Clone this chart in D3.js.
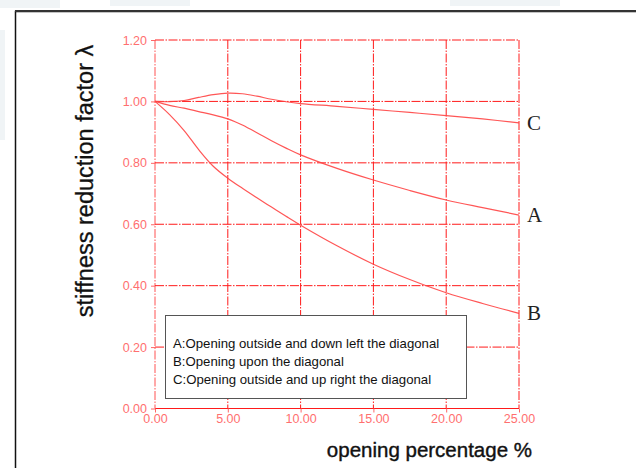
<!DOCTYPE html>
<html><head><meta charset="utf-8">
<script src="https://cdn.jsdelivr.net/npm/d3@7"></script>
<style>body{margin:0;background:#fff}svg{display:block}</style>
</head><body>
<script>
const xTicks = [0, 5, 10, 15, 20, 25];
const yTicks = [0, 0.2, 0.4, 0.6, 0.8, 1.0, 1.2];
const xA = [0, 1, 2, 3, 4, 5, 5.5, 6, 7, 8, 9, 10, 12.5, 15, 17.5, 20, 22.5, 25];
const seriesA = [1.0, 0.987, 0.978, 0.967, 0.956, 0.943, 0.934, 0.923, 0.898, 0.872, 0.848, 0.826, 0.782, 0.744, 0.71, 0.679, 0.654, 0.63];
const xB = [0, 1, 2, 3, 4, 5, 6, 7, 8, 9, 10, 12.5, 15, 17.5, 20, 22.5, 25];
const seriesB = [1.0, 0.957, 0.905, 0.843, 0.789, 0.75, 0.717, 0.686, 0.656, 0.626, 0.597, 0.53, 0.47, 0.42, 0.377, 0.342, 0.31];
const xC = [0, 1, 2, 3, 4, 5, 6, 7, 8, 9, 10, 12.5, 15, 17.5, 20, 22.5, 25];
const seriesC = [1.0, 0.999, 1.003, 1.013, 1.022, 1.027, 1.025, 1.017, 1.007, 0.999, 0.993, 0.984, 0.974, 0.964, 0.954, 0.943, 0.93];
const curveLabels = ["A", "B", "C"];
const legendLines = ["A:Opening outside and down left the diagonal", "B:Opening upon the diagonal", "C:Opening outside and up right the diagonal"];
const yTitle = "stiffness reduction factor λ";
const xTitle = "opening percentage %";

const W = 636, H = 468;
const svg = d3.select("body").append("svg").attr("width", W).attr("height", H);

// faint watermark pieces
const wm = svg.append("g").attr("fill", "#f0f4f6");
[[0,0,60,8],[110,0,80,6],[450,0,110,6],[0,30,5,110]].forEach(r=>{
  wm.append("rect").attr("x",r[0]).attr("y",r[1]).attr("width",r[2]).attr("height",r[3]);
});

// outer frame
svg.append("rect").attr("x", 15.5).attr("y", 11.5).attr("width", 640).attr("height", 480)
  .attr("fill", "none").attr("stroke", "#111").attr("stroke-width", 1.5);
svg.append("line").attr("x1",15).attr("x2",W).attr("y1",11).attr("y2",11).attr("stroke","#333").attr("stroke-width",2);

const x = d3.scaleLinear().domain([0, 25]).range([155, 519]);
const y = d3.scaleLinear().domain([0, 1.2]).range([408.5, 40]);
const red = "#ff1a1a";
const dash = "9,1.5,1.5,1.5";

// grid
const grid = svg.append("g").attr("stroke", red).attr("stroke-width", 1).attr("stroke-dasharray", dash);
xTicks.filter(d=>d>0).forEach(d=>{
  grid.append("line").attr("x1", x(d)).attr("x2", x(d)).attr("y1", y(1.2)).attr("y2", y(0));
});
yTicks.filter(d=>d>0).forEach(d=>{
  grid.append("line").attr("x1", x(0)).attr("x2", x(25)).attr("y1", y(d)).attr("y2", y(d));
});
// left axis line (dash-dot, lighter)
svg.append("line").attr("x1", x(0)).attr("x2", x(0)).attr("y1", y(1.2)).attr("y2", y(0))
  .attr("stroke", red).attr("stroke-width", 1).attr("stroke-dasharray", dash).attr("opacity", 0.75);
// bottom axis line solid
svg.append("line").attr("x1", x(0)).attr("x2", x(25)).attr("y1", y(0)).attr("y2", y(0))
  .attr("stroke", red).attr("stroke-width", 1.2);

// axes via d3
const fmt = d3.format(".2f");
const xAxis = svg.append("g").attr("transform", `translate(0,${y(0)})`)
  .call(d3.axisBottom(x).tickValues(xTicks).tickFormat(fmt).tickSize(4).tickPadding(2));
const yAxis = svg.append("g").attr("transform", `translate(${x(0)},0)`)
  .call(d3.axisLeft(y).tickValues(yTicks).tickFormat(fmt).tickSize(4).tickPadding(4));
[xAxis, yAxis].forEach(g=>{
  g.select(".domain").remove();
  g.selectAll(".tick line").attr("stroke", "#ff6666");
  g.selectAll(".tick text").attr("fill", "#ff6f6f").attr("font-family", "Liberation Sans, Arial, sans-serif").attr("font-size", 12.5);
});

// curves
const line = d3.line().x(d=>x(d[0])).y(d=>y(d[1])).curve(d3.curveCatmullRom.alpha(0.5));
const data = [d3.zip(xA, seriesA), d3.zip(xB, seriesB), d3.zip(xC, seriesC)];
data.forEach(ds=>{
  svg.append("path").datum(ds).attr("d", line).attr("fill", "none")
    .attr("stroke", "#ff4444").attr("stroke-width", 1.2).attr("opacity", 0.9);
});

// end labels
data.forEach((ds, i)=>{
  const last = ds[ds.length-1];
  svg.append("text").attr("x", 527).attr("y", y(last[1]) + 7)
    .attr("font-family", "Liberation Serif, Times New Roman, serif").attr("font-size", 21)
    .attr("fill", "#222").text(curveLabels[i]);
});

// legend
svg.append("rect").attr("x", 165.5).attr("y", 315.5).attr("width", 301).attr("height", 83)
  .attr("fill", "#fff").attr("stroke", "#555").attr("stroke-width", 1);
legendLines.forEach((t, i)=>{
  svg.append("text").attr("x", 173).attr("y", 347.5 + i * 18.3)
    .attr("font-family", "Liberation Sans, Arial, sans-serif").attr("font-size", 13.2)
    .attr("fill", "#111").text(t);
});

// titles
svg.append("text").attr("transform", `translate(93,181) rotate(-90)`).attr("text-anchor", "middle")
  .attr("font-family", "Liberation Sans, Arial, sans-serif").attr("font-size", 23.5)
  .attr("fill", "#111").attr("stroke", "#111").attr("stroke-width", 0.3).text(yTitle);
svg.append("text").attr("x", 532).attr("y", 457).attr("text-anchor", "end")
  .attr("font-family", "Liberation Sans, Arial, sans-serif").attr("font-size", 20.5)
  .attr("fill", "#111").attr("stroke", "#111").attr("stroke-width", 0.4).text(xTitle);
</script>
</body></html>
